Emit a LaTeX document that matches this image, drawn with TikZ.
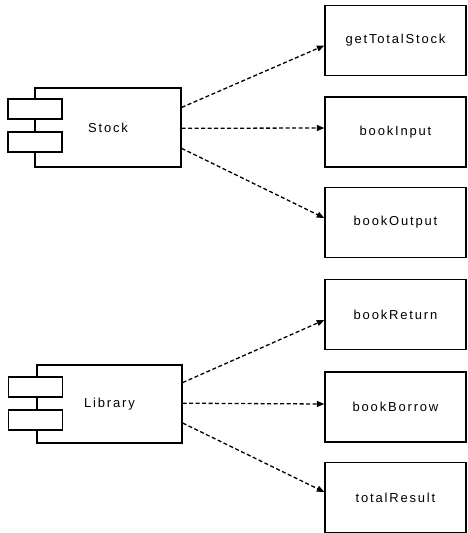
\documentclass[tikz,border=0pt]{standalone}
\usepackage{fontspec}
\setmainfont{Liberation Sans}[LetterSpace=14]
\usetikzlibrary{arrows.meta,calc}
\begin{document}
\begin{tikzpicture}[x=1pt,y=-1pt,
  comp/.style={draw,line width=1.3pt,fill=white,inner sep=0pt,font=\fontsize{13}{15}\selectfont},
  port/.style={draw,line width=1.3pt,fill=white,minimum width=54pt,minimum height=20pt,inner sep=0pt},
  opbox/.style={draw,line width=1.3pt,fill=white,minimum width=141pt,minimum height=70pt,inner sep=0pt,font=\fontsize{13}{15}\selectfont},
  dep/.style={line width=1.3pt,dash pattern=on 4pt off 2.5pt,-{Triangle[length=7.5pt,width=6pt]}}]
\useasboundingbox (0,0) rectangle (467,533);
% Stock component
\node[comp,minimum width=146pt,minimum height=79pt] (stock) at (108,127.5) {Stock};
\node[port] (sp1) at (35,109) {};
\node[port] (sp2) at (35,142) {};
% Library component
\node[comp,minimum width=145pt,minimum height=78pt] (lib) at (109.5,404) {Library};
\node[port] (lp1) at (35.5,387) {};
\node[port] (lp2) at (35.5,420) {};
% operation boxes
\node[opbox] (gts) at (395.5,40.5) {getTotalStock};
\node[opbox] (bin) at (395.5,132) {bookInput};
\node[opbox] (bout) at (395.5,222.5) {bookOutput};
\node[opbox] (bret) at (395.5,314.5) {bookReturn};
\node[opbox] (bbor) at (395.5,407) {bookBorrow};
\node[opbox] (tres) at (395.5,497.5) {totalResult};
% dependencies
\draw[dep] ($(stock.north east)!0.25!(stock.south east)$) -- ([yshift=-5pt]gts.west);
\draw[dep] ($(stock.north east)!0.51!(stock.south east)$) -- ([yshift=4pt]bin.west);
\draw[dep] ($(stock.north east)!0.76!(stock.south east)$) -- ([yshift=4.5pt]bout.west);
\draw[dep] ($(lib.north east)!0.23!(lib.south east)$) -- ([yshift=-5.5pt]bret.west);
\draw[dep] ($(lib.north east)!0.49!(lib.south east)$) -- ([yshift=3pt]bbor.west);
\draw[dep] ($(lib.north east)!0.74!(lib.south east)$) -- ([yshift=5.5pt]tres.west);
\end{tikzpicture}
\end{document}
